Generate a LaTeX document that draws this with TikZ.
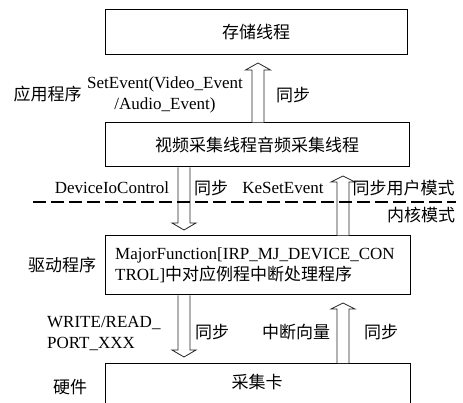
\documentclass[tikz,border=0pt]{standalone}
\usepackage{fontspec}
\setmainfont{Liberation Serif}
\newfontfamily\cjk{Noto Sans CJK SC}
\usetikzlibrary{calc}
\tikzset{
  box/.style={draw=black, line width=1pt, rectangle, inner sep=0pt, font=\cjk\fontsize{17}{20}\selectfont},
  lbl/.style={inner sep=0pt, font=\cjk\fontsize{17}{20}\selectfont},
  lat/.style={inner sep=0pt, font=\fontsize{17}{21}\selectfont},
  hollow/.style={draw=black!85, line width=0.8pt, fill=white},
  modeline/.style={line width=2.6pt, dash pattern=on 13pt off 5pt}
}
\begin{document}
\begin{tikzpicture}[x=1pt,y=-1pt]
\useasboundingbox (0,0) rectangle (463,403);
% boxes
\node[box, minimum width=302pt, minimum height=45pt] (b1) at (256,32.5) {存储线程};
\node[box, minimum width=304pt, minimum height=44pt] (b2) at (257,145) {视频采集线程音频采集线程};
\node[box, minimum width=305pt, minimum height=59pt] (b3) at (257.5,265.5) {};
\node[box, minimum width=305pt, minimum height=50pt, anchor=north] (b4) at (257.5,363) {};
\node[lat, align=left, anchor=west] (t3) at (115,265.5) {MajorFunction[IRP\_MJ\_DEVICE\_CON\\TROL]{\cjk 中对应例程中断处理程序}};
\node[lbl] (t4) at (257,382) {采集卡};
% mode line
\coordinate (ml) at (33,202);
\coordinate (mr) at (456,202);
% arrows (hollow)
% up arrow b2 -> b1
\draw[hollow] (252,0 |- b2.north) -- (252,70) -- (245.5,70) -- (258,63) -- (270.5,70) -- (264,70) -- (264,0 |- b2.north);
% down arrow b2 -> b3
\draw[hollow] (178,0 |- b2.south) -- (178,223) -- (172,223) -- (184,230) -- (196,223) -- (190,223) -- (190,0 |- b2.south);
% up arrow b3 -> b2
\draw[hollow] (337,0 |- b3.north) -- (337,182) -- (331,182) -- (343,176) -- (355,182) -- (349,182) -- (349,0 |- b3.north);
% down arrow b3 -> b4
\draw[hollow] (178,0 |- b3.south) -- (178,350) -- (172,350) -- (184,357) -- (196,350) -- (190,350) -- (190,0 |- b3.south);
% up arrow b4 -> b3
\draw[hollow] (337,0 |- b4.north) -- (337,309) -- (331,309) -- (343,303) -- (355,309) -- (349,309) -- (349,0 |- b4.north);
\draw[modeline] (ml) -- (mr);
% labels
\node[lbl] (app) at (47.5,94) {应用程序};
\node[lat, align=center] (se) at (165,95) {SetEvent(Video\_Event\\/Audio\_Event)};
\node[lbl] (s1) at (293,95) {同步};
\node[lat] (dic) at (112,188) {DeviceIoControl};
\node[lbl] (s2) at (211,188) {同步};
\node[lat] (kse) at (283,188) {KeSetEvent};
\node[lbl] (s3) at (403.5,188) {同步用户模式};
\node[lbl] (km) at (421,215) {内核模式};
\node[lbl] (drv) at (62,265) {驱动程序};
\node[lat, align=left, anchor=west] (wr) at (47,333) {WRITE/READ\_\\PORT\_XXX};
\node[lbl] (s4) at (212,332) {同步};
\node[lbl] (iv) at (296,332) {中断向量};
\node[lbl] (s5) at (381,332) {同步};
\node[lbl] (hw) at (70,387) {硬件};
\end{tikzpicture}
\end{document}
